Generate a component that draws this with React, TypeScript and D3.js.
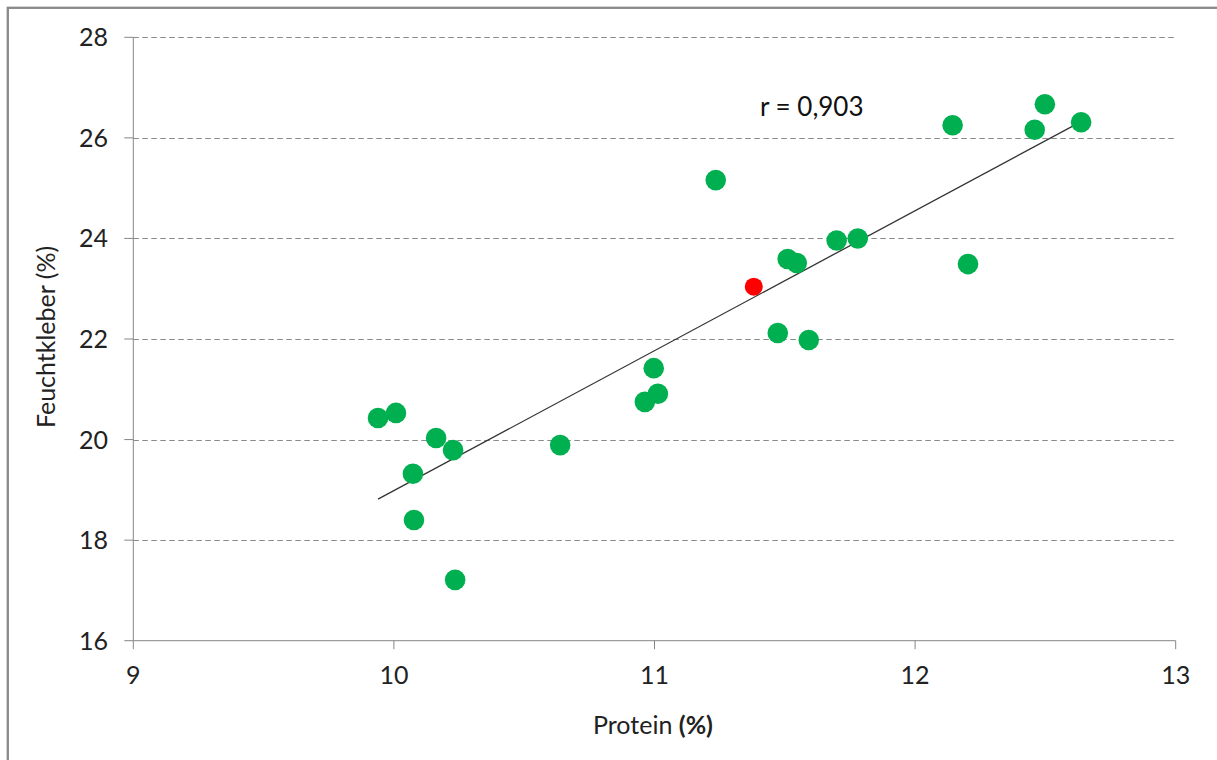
import React from "react";
import * as d3 from "d3";

const proteinGreen: number[] = [9.939, 10.008, 10.162, 10.227, 10.073, 10.077, 10.235, 10.638, 10.963, 11.013, 10.997, 11.235, 11.473, 11.592, 11.511, 11.546, 11.699, 11.78, 12.203, 12.144, 12.459, 12.498, 12.637];
const kleberGreen: number[] = [20.43, 20.53, 20.03, 19.79, 19.32, 18.4, 17.21, 19.89, 20.75, 20.91, 21.42, 25.16, 22.12, 21.98, 23.59, 23.51, 23.96, 24.0, 23.49, 26.25, 26.16, 26.67, 26.31];
const proteinRed: number[] = [11.381];
const kleberRed: number[] = [23.04];
const xTicks: number[] = [9, 10, 11, 12, 13];
const yTicks: number[] = [16, 18, 20, 22, 24, 26, 28];
const xTitle = "Protein ";
const xTitleBold = "(%)";
const yTitle = "Feuchtkleber (%)";
const rLabel = "r = 0,903";

const W = 1217;
const H = 760;
const FONT = "Lato, 'Open Sans', sans-serif";

export default function App() {
  const x = d3.scaleLinear().domain([9, 13]).range([133.3, 1175.7]);
  const y = d3.scaleLinear().domain([16, 28]).range([640.7, 37.3]);

  const allX = [...proteinGreen, ...proteinRed];
  const allY = [...kleberGreen, ...kleberRed];
  const mx = d3.mean(allX)!;
  const my = d3.mean(allY)!;
  let sxy = 0, sxx = 0;
  allX.forEach((v, i) => {
    sxy += (v - mx) * (allY[i] - my);
    sxx += (v - mx) * (v - mx);
  });
  const slope = sxy / sxx;
  const intercept = my - slope * mx;
  const x0 = d3.min(allX)!;
  const x1 = d3.max(allX)!;
  const line = d3.line<[number, number]>().x((d) => x(d[0])).y((d) => y(d[1]));
  const trend = line([
    [x0, intercept + slope * x0],
    [x1, intercept + slope * x1],
  ]);

  const axisColor = "#868686";
  const fs = 25;

  return (
    <svg
      width={W}
      height={H}
      style={{ position: "absolute", left: 0, top: 0, background: "#fff" }}
      fontFamily={FONT}
    >
      <rect x={0} y={0} width={W} height={H} fill="#fff" />
      <rect x={7.8} y={7.8} width={W + 20} height={H + 20} fill="none" stroke="#898989" strokeWidth={2.3} />

      {/* gridlines */}
      {yTicks.filter((t) => t !== 16).map((t) => (
        <line
          key={"g" + t}
          x1={x(9)}
          x2={x(13)}
          y1={Math.round(y(t)) + 0.5}
          y2={Math.round(y(t)) + 0.5}
          stroke="#8a8a8a"
          strokeWidth={1}
          strokeDasharray="5.5,3.5"
        />
      ))}

      {/* axes */}
      <line x1={x(9)} x2={x(9)} y1={y(28)} y2={y(16)} stroke={axisColor} strokeWidth={1} />
      <line x1={x(9)} x2={x(13)} y1={y(16)} y2={y(16)} stroke={axisColor} strokeWidth={1} />
      {yTicks.map((t) => (
        <g key={"yt" + t}>
          <line x1={x(9) - 9} x2={x(9)} y1={y(t)} y2={y(t)} stroke={axisColor} strokeWidth={1} />
          <text x={108} y={y(t)} dy="0.36em" textAnchor="end" fontSize={fs} fill="#222">
            {t}
          </text>
        </g>
      ))}
      {xTicks.map((t) => (
        <g key={"xt" + t}>
          <line x1={x(t)} x2={x(t)} y1={y(16)} y2={y(16) + 8.5} stroke={axisColor} strokeWidth={1} />
          <text x={x(t)} y={684} textAnchor="middle" fontSize={fs} fill="#222">
            {t}
          </text>
        </g>
      ))}

      {/* axis titles */}
      <text x={653} y={734} textAnchor="middle" fontSize={fs} fill="#222">
        {xTitle}
        <tspan fontWeight="bold">{xTitleBold}</tspan>
      </text>
      <text
        transform={`translate(55,337) rotate(-90)`}
        textAnchor="middle"
        fontSize={fs}
        fill="#222"
      >
        {yTitle}
      </text>

      {/* trendline */}
      <path d={trend ?? ""} fill="none" stroke="#333" strokeWidth={1.3} />

      {/* points */}
      {proteinGreen.map((v, i) => (
        <circle key={"p" + i} cx={x(v)} cy={y(kleberGreen[i])} r={10.3} fill="#00B050" />
      ))}
      {proteinRed.map((v, i) => (
        <circle key={"r" + i} cx={x(v)} cy={y(kleberRed[i])} r={9} fill="#FF0000" />
      ))}

      <text x={760} y={116} fontSize={26} fill="#111">
        {rLabel}
      </text>
    </svg>
  );
}
